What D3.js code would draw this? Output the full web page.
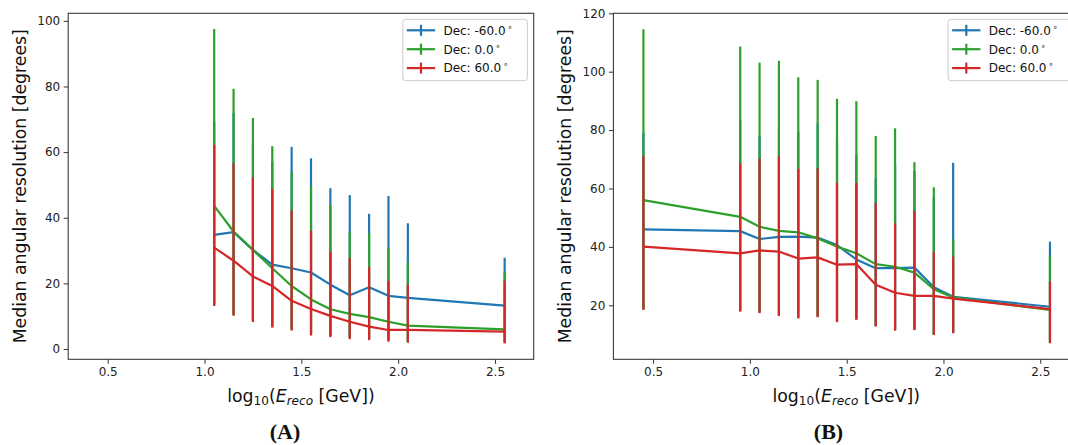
<!DOCTYPE html>
<html><head><meta charset="utf-8">
<script src="https://cdn.jsdelivr.net/npm/d3@7"></script>
<style>
html,body{margin:0;padding:0;background:#fff;}
svg{display:block;font-family:"DejaVu Sans",sans-serif;}
</style></head>
<body>
<script>
// ---------- DATA ----------
const seriesNames = ["Dec: -60.0", "Dec: 0.0", "Dec: 60.0"];
const xTicks = [0.5, 1.0, 1.5, 2.0, 2.5];
const yTicksA = [0, 20, 40, 60, 80, 100];
const yTicksB = [20, 40, 60, 80, 100, 120];

// Panel A
const xA = [1.05,1.15,1.25,1.35,1.45,1.55,1.65,1.75,1.85,1.95,2.05,2.55];
const blueA_med = [34.8,35.6,30.2,25.7,24.6,23.3,19.6,16.4,18.8,16.2,15.6,13.2];
const blueA_hi  = [69.3,71.9,62.5,57.0,61.6,58.1,49.0,46.9,41.2,46.6,38.3,27.8];
const blueA_lo  = [13.6,10.6,8.7,7.0,6.1,4.6,4.1,3.5,3.2,2.7,2.4,2.2];
const greenA_med = [43.6,35.8,30.2,24.6,19.2,15.1,12.1,10.7,9.7,8.3,7.1,6.0];
const greenA_hi  = [97.5,79.3,70.4,61.8,54.1,49.7,43.8,35.8,35.3,30.9,26.3,23.4];
const greenA_lo  = [13.4,10.4,8.5,6.8,5.9,4.4,3.9,3.3,3.0,2.5,2.2,2.0];
const redA_med = [30.9,26.9,22.1,19.2,14.7,12.2,10.1,8.3,6.8,5.8,5.8,5.3];
const redA_hi  = [62.2,56.6,52.2,48.8,42.3,36.0,29.7,27.8,24.9,20.8,19.6,20.8];
const redA_lo  = [13.1,10.1,8.2,6.5,5.6,4.1,3.6,3.0,2.7,2.2,1.9,1.7];

// Panel B
const xB = [0.45,0.95,1.05,1.15,1.25,1.35,1.45,1.55,1.65,1.75,1.85,1.95,2.05,2.55];
const blueB_med = [46.0,45.4,42.7,43.4,43.5,43.2,40.6,35.7,32.7,32.7,32.9,26.2,22.9,19.5];
const blueB_hi  = [79.1,83.5,78.0,80.5,79.5,82.3,76.0,71.5,63.5,68.0,66.0,57.0,68.8,41.8];
const blueB_lo  = [18.8,18.2,17.7,16.7,15.9,16.3,14.6,15.4,13.1,11.7,11.9,10.2,10.8,7.4];
const greenB_med = [56.0,50.3,46.9,45.5,45.0,42.9,40.1,37.8,34.1,33.2,31.2,25.5,22.7,18.4];
const greenB_hi  = [114.5,108.6,103.1,103.7,98.1,97.2,90.7,89.9,78.0,80.6,69.0,60.4,42.6,36.9];
const greenB_lo  = [18.6,18.0,17.5,16.5,15.7,16.1,14.4,15.2,12.9,11.5,11.7,10.0,10.6,7.2];
const redB_med = [40.1,37.8,38.8,38.4,36.0,36.4,33.9,34.1,27.0,24.3,23.2,23.2,22.3,18.7];
const redB_hi  = [71.2,68.6,70.3,71.0,66.7,66.9,61.9,61.9,55.1,48.1,52.3,38.4,36.7,28.1];
const redB_lo  = [18.4,17.8,17.3,16.3,15.5,15.9,14.2,15.0,12.7,11.3,11.5,9.8,10.4,7.0];

const colors = ["#1f77b4", "#2ca02c", "#d62728"];

// ---------- DRAW ----------
const W = 1068, H = 445;
const svg = d3.select("body").append("svg").attr("width", W).attr("height", H);
svg.append("rect").attr("width", W).attr("height", H).attr("fill", "#fff");

function panel(opt) {
  const {left, right, top, bottom, xDomain, yDomain, yTicks, xs, series, caption, captionX} = opt;
  const x = d3.scaleLinear().domain(xDomain).range([left, right]);
  const y = d3.scaleLinear().domain(yDomain).range([bottom, top]);
  const g = svg.append("g");

  // data
  series.forEach((s, si) => {
    const sg = g.append("g");
    sg.selectAll("line.err").data(xs.map((xv, i) => ({x: xv, lo: s.lo[i], hi: s.hi[i]})))
      .enter().append("line")
      .attr("x1", d => x(d.x)).attr("x2", d => x(d.x))
      .attr("y1", d => y(d.lo)).attr("y2", d => y(d.hi))
      .attr("stroke", s.color).attr("stroke-width", 2.2);
    const line = d3.line().x((d, i) => x(xs[i])).y(d => y(d));
    sg.append("path").attr("d", line(s.med)).attr("fill", "none")
      .attr("stroke", s.color).attr("stroke-width", 2.2).attr("stroke-linejoin", "round");
  });

  // axes
  const axL = d3.axisLeft(y).tickValues(yTicks).tickFormat(d3.format("d")).tickSize(4.5).tickPadding(3.5);
  const axB = d3.axisBottom(x).tickValues(xTicks).tickFormat(d3.format(".1f")).tickSize(4.5).tickPadding(3.5);
  const gl = svg.append("g").attr("transform", `translate(${left},0)`).call(axL);
  const gb = svg.append("g").attr("transform", `translate(0,${bottom})`).call(axB);
  [gl, gb].forEach(a => {
    a.select(".domain").remove();
    a.selectAll(".tick line").attr("stroke", "#333").attr("stroke-width", 1);
    a.selectAll(".tick text").attr("fill", "#222").style("font-size", "12px")
      .style("font-family", "DejaVu Sans, sans-serif");
  });
  // frame
  svg.append("rect").attr("x", left).attr("y", top).attr("width", right - left).attr("height", bottom - top)
    .attr("fill", "none").attr("stroke", "#3a3a3a").attr("stroke-width", 1.1);

  // y label
  svg.append("text").attr("transform", `translate(${left - 42.3},${(top + bottom) / 2}) rotate(-90)`)
    .attr("text-anchor", "middle").style("font-size", "17.3px").attr("fill", "#111")
    .text("Median angular resolution [degrees]");

  // x label with mathtext-like formatting
  const xl = svg.append("text").attr("x", (left + right) / 2).attr("y", 401.5)
    .attr("text-anchor", "middle").style("font-size", "17.3px").attr("fill", "#111");
  xl.append("tspan").text("log");
  xl.append("tspan").attr("dy", 3.6).style("font-size", "12.1px").text("10");
  xl.append("tspan").attr("dy", -3.6).text("(");
  xl.append("tspan").style("font-style", "italic").text("E");
  xl.append("tspan").attr("dy", 3.6).style("font-size", "12.1px").style("font-style", "italic").text("reco");
  xl.append("tspan").attr("dy", -3.6).text("\u00a0[GeV])");

  // caption
  svg.append("text").attr("x", captionX).attr("y", 439).attr("text-anchor", "middle")
    .style("font-family", "Liberation Serif, DejaVu Serif, serif").style("font-weight", "bold")
    .style("font-size", "22px").attr("fill", "#111").text(caption);

  // legend
  const bw = 124.6, bh = 61.4;
  const bx = right - 6.3 - bw, by = top + 6;
  const lg = svg.append("g");
  lg.append("rect").attr("x", bx).attr("y", by).attr("width", bw).attr("height", bh)
    .attr("rx", 3).attr("fill", "#fff").attr("fill-opacity", 0.8)
    .attr("stroke", "#cccccc").attr("stroke-width", 1);
  series.forEach((s, i) => {
    const ry = top + 17 + i * 18.9;
    lg.append("line").attr("x1", bx + 4).attr("x2", bx + 32.3).attr("y1", ry).attr("y2", ry)
      .attr("stroke", s.color).attr("stroke-width", 2.2);
    lg.append("line").attr("x1", bx + 18.2).attr("x2", bx + 18.2).attr("y1", ry - 5.5).attr("y2", ry + 5.5)
      .attr("stroke", s.color).attr("stroke-width", 2.2);
    const t = lg.append("text").attr("x", bx + 40.6).attr("y", ry + 4.3)
      .style("font-size", "12px").attr("fill", "#111");
    t.append("tspan").text(s.name);
    t.append("tspan").attr("dx", 2).attr("dy", -5).style("font-size", "8px").text("\u2218");
  });
}

panel({
  left: 68.2, right: 533.7, top: 13.3, bottom: 359.3,
  xDomain: [0.296, 2.70], yDomain: [-3.14, 102.3], yTicks: yTicksA, xs: xA,
  series: [
    {name: seriesNames[0], color: colors[0], med: blueA_med, lo: blueA_lo, hi: blueA_hi},
    {name: seriesNames[1], color: colors[1], med: greenA_med, lo: greenA_lo, hi: greenA_hi},
    {name: seriesNames[2], color: colors[2], med: redA_med, lo: redA_lo, hi: redA_hi}
  ],
  caption: "(A)", captionX: 285
});

panel({
  left: 613.4, right: 1079, top: 13.3, bottom: 359.3,
  xDomain: [0.295, 2.70], yDomain: [1.5, 120], yTicks: yTicksB, xs: xB,
  series: [
    {name: seriesNames[0], color: colors[0], med: blueB_med, lo: blueB_lo, hi: blueB_hi},
    {name: seriesNames[1], color: colors[1], med: greenB_med, lo: greenB_lo, hi: greenB_hi},
    {name: seriesNames[2], color: colors[2], med: redB_med, lo: redB_lo, hi: redB_hi}
  ],
  caption: "(B)", captionX: 828.5
});
</script>
</body></html>
